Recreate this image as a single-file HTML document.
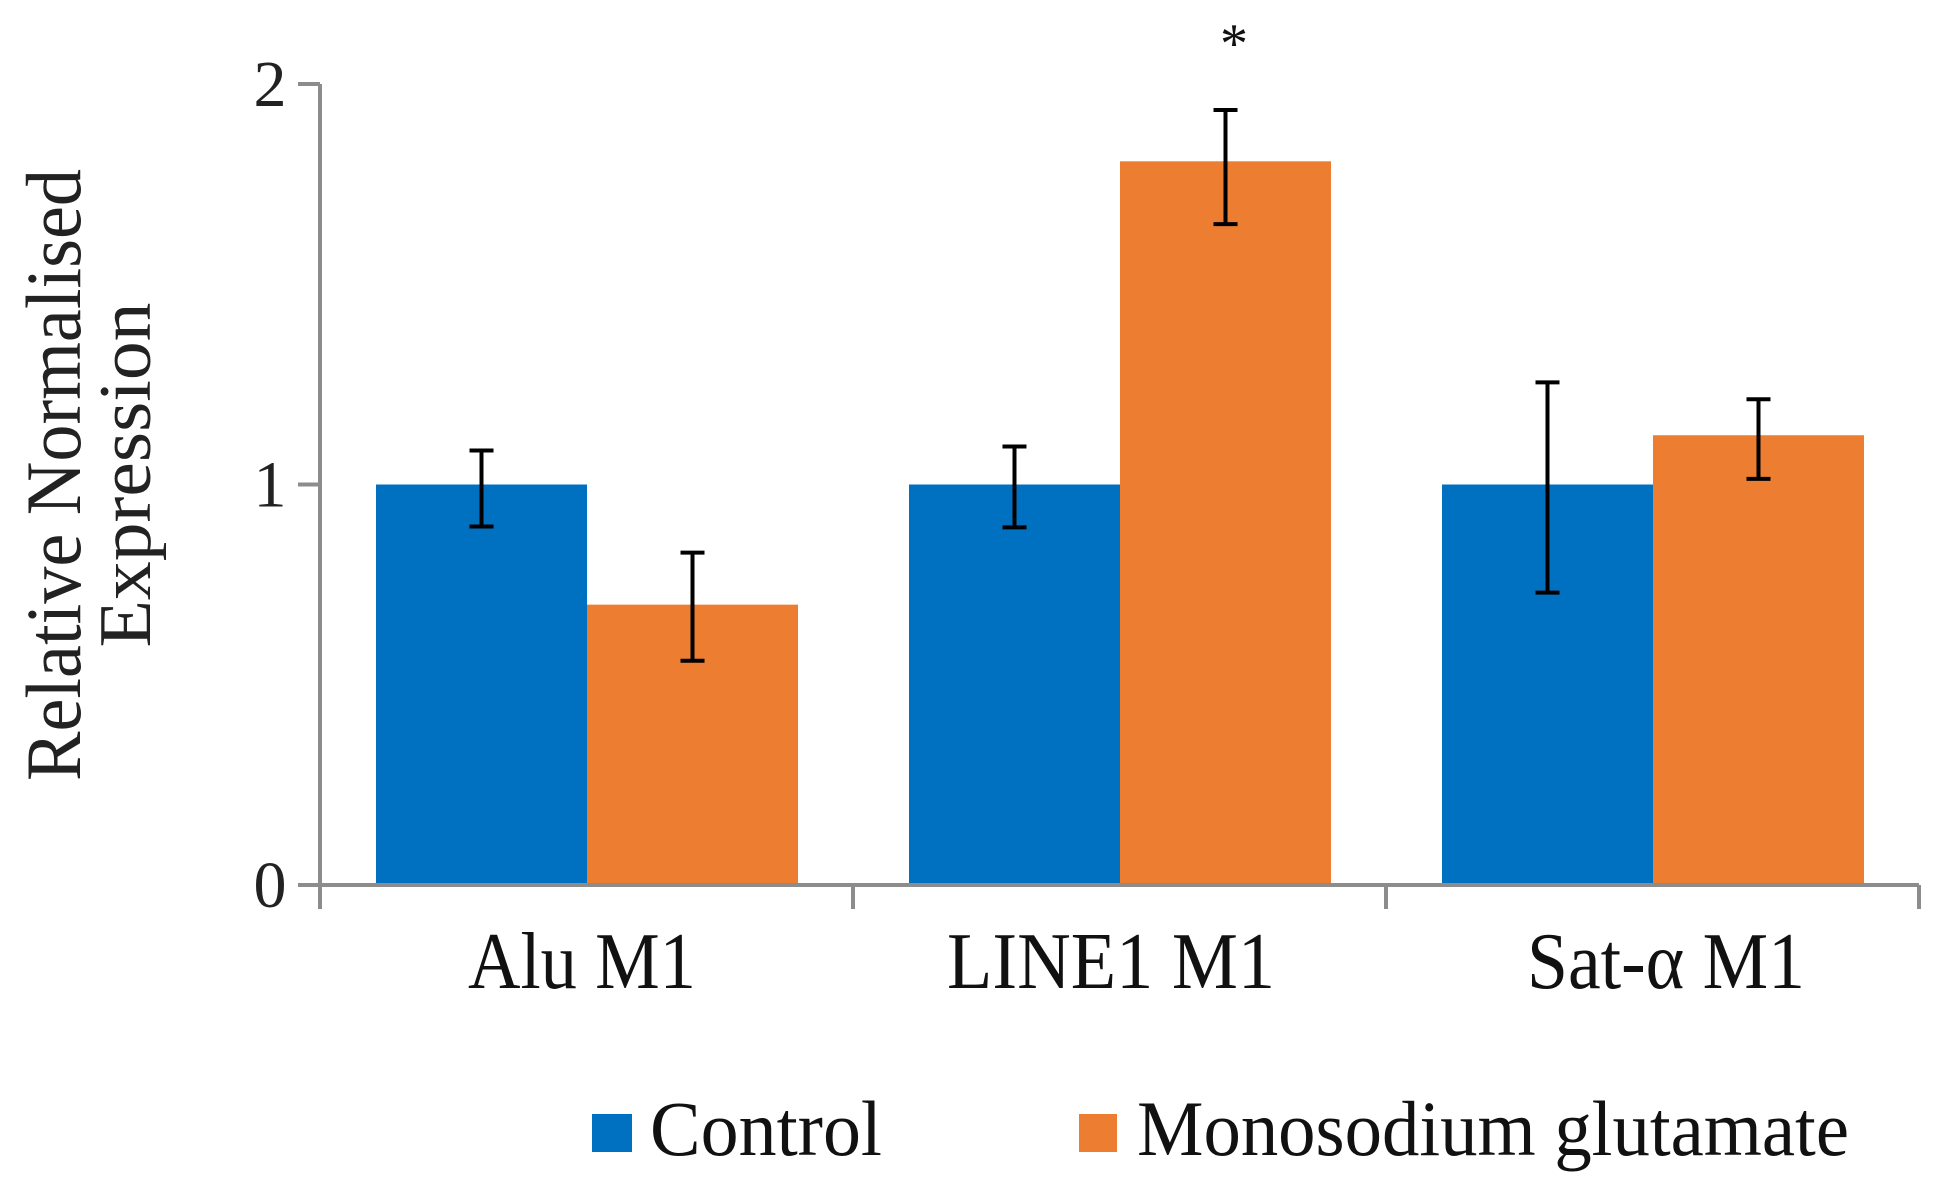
<!DOCTYPE html>
<html><head><meta charset="utf-8"><style>
html,body{margin:0;padding:0;background:#fff;}
svg{display:block;font-family:"Liberation Serif",serif;}
</style></head><body>
<svg id="chart" width="1950" height="1193" viewBox="0 0 1950 1193" xmlns="http://www.w3.org/2000/svg">
<g id="axes"></g>
<g id="bars"></g>
<g id="errs"></g>
<g>
<text transform="translate(80,475) rotate(-90)" text-anchor="middle" font-size="78" textLength="612" lengthAdjust="spacingAndGlyphs" fill="#222">Relative Normalised</text>
<text transform="translate(150,475) rotate(-90)" text-anchor="middle" font-size="74" textLength="345" lengthAdjust="spacingAndGlyphs" fill="#222">Expression</text>
</g>
<g>
<rect x="592" y="1114" width="40" height="38" fill="#0070C0"/>
<text x="650" y="1155" font-size="78" textLength="232" lengthAdjust="spacingAndGlyphs" fill="#111">Control</text>
<rect x="1079" y="1114" width="38" height="38" fill="#ED7D31"/>
<text x="1137" y="1155" font-size="78" textLength="712" lengthAdjust="spacingAndGlyphs" fill="#111">Monosodium glutamate</text>
</g>
<text x="1234" y="62" font-size="56" text-anchor="middle" fill="#111">*</text>
</svg>
<script>
const categories = ["Alu M1", "LINE1 M1", "Sat-α M1"];
const labelWidths = [228, 328, 278];
const labelShift = [-5, -9, 13];
const controlValues = [1.0, 1.0, 1.0];
const controlErrHigh = [1.085, 1.095, 1.255];
const controlErrLow = [0.895, 0.893, 0.73];
const msgValues = [0.70, 1.807, 1.123];
const msgErrHigh = [0.83, 1.935, 1.213];
const msgErrLow = [0.56, 1.65, 1.014];
const yTicks = [0, 1, 2];

const NS = "http://www.w3.org/2000/svg";
const x0 = 320, x1 = 1919, yZero = 885, yMax = 84, vMax = 2;
const catW = (x1 - x0) / categories.length;
const barW = 211, barOff = 56;
function y(v){ return yZero - (v / vMax) * (yZero - yMax); }
function mk(tag, attrs, parent){ const e = document.createElementNS(NS, tag); for (const k in attrs) e.setAttribute(k, attrs[k]); parent.appendChild(e); return e; }
const axes = document.getElementById('axes'), bars = document.getElementById('bars'), errs = document.getElementById('errs');
const grey = "#8c8c8c";
let l = mk('line', {x1:x0, y1:yMax, x2:x0, y2:yZero+24, stroke:grey, 'stroke-width':4}, axes);


l = mk('line', {x1:x0-2, y1:yZero, x2:x1, y2:yZero, stroke:grey, 'stroke-width':4}, axes);


yTicks.forEach(t => {
  const tk = mk('line', {x1:x0-22, y1:y(t), x2:x0, y2:y(t), stroke:grey, 'stroke-width':4}, axes);
  
  
  const tx = mk('text', {x:x0-50, y:y(t)+22, 'font-size':66, 'text-anchor':'middle', fill:'#222'}, axes);
  tx.textContent = t;
  
  
});
for (let i = 1; i <= categories.length; i++) {
  const tk = mk('line', {x1:x0+i*catW, y1:yZero, x2:x0+i*catW, y2:yZero+24, stroke:grey, 'stroke-width':4}, axes);
  
  
}
function errBar(cx, hi, lo){
  const g = mk('g', {stroke:'#000', 'stroke-width':4}, errs);
  
  
  mk('line', {x1:cx, y1:y(hi), x2:cx, y2:y(lo)}, g);
  mk('line', {x1:cx-12, y1:y(hi), x2:cx+12, y2:y(hi)}, g);
  mk('line', {x1:cx-12, y1:y(lo), x2:cx+12, y2:y(lo)}, g);
}
categories.forEach((c, i) => {
  const bx = x0 + i*catW + barOff;
  const b1 = mk('rect', {x:bx, y:y(controlValues[i]), width:barW, height:yZero-y(controlValues[i])-2, fill:'#0070C0'}, bars);
  
  
  const b2 = mk('rect', {x:bx+barW, y:y(msgValues[i]), width:barW, height:yZero-y(msgValues[i])-2, fill:'#ED7D31'}, bars);
  
  
  errBar(bx + barW/2, controlErrHigh[i], controlErrLow[i]);
  errBar(bx + barW*1.5, msgErrHigh[i], msgErrLow[i]);
  const t = mk('text', {x:bx + barW + labelShift[i], y:988, 'font-size':80, 'text-anchor':'middle', fill:'#111', textLength:labelWidths[i], lengthAdjust:'spacingAndGlyphs'}, axes);
  t.textContent = c;
  
  
});
</script>
</body></html>
